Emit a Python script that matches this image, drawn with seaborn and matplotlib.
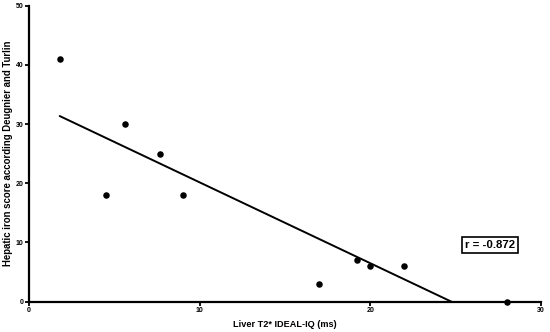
import numpy as np
import pandas as pd
import matplotlib
matplotlib.use("Agg")
import matplotlib.pyplot as plt
import seaborn as sns

t2_ms = [1.8, 4.5, 5.6, 7.7, 9.0, 17.0, 19.2, 20.0, 22.0, 28.0]
iron_score = [41, 18, 30, 25, 18, 3, 7, 6, 6, 0]
x_ticks = [0, 10, 20, 30]
y_ticks = [0, 10, 20, 30, 40, 50]
r_label = "r = -0.872"

df = pd.DataFrame({"t2": t2_ms, "score": iron_score})

sns.set_theme(style="white")
plt.rcParams["font.family"] = ["Liberation Sans", "DejaVu Sans"]
plt.rcParams["text.color"] = "black"
plt.rcParams["axes.labelcolor"] = "black"

fig = plt.figure(figsize=(5.5, 3.32), dpi=100)
ax = fig.add_axes([0.0527, 0.0913, 0.9309, 0.8917])

sns.regplot(data=df, x="t2", y="score", ci=None, ax=ax, scatter=False,
            line_kws={"color": "black", "linewidth": 1.4})
sns.scatterplot(data=df, x="t2", y="score", ax=ax, color="black", s=22,
                edgecolor="black", linewidth=0, clip_on=False, zorder=5)

ax.set_xlim(0, 30)
ax.set_ylim(0, 50)
ax.set_xticks(x_ticks)
ax.set_yticks(y_ticks)
ax.set_xticklabels([str(v) for v in x_ticks], fontsize=5, fontweight="bold")
ax.set_yticklabels([str(v) for v in y_ticks], fontsize=5, fontweight="bold")
for s in ["top", "right"]:
    ax.spines[s].set_visible(False)
for s in ["left", "bottom"]:
    ax.spines[s].set_linewidth(1.6)
    ax.spines[s].set_color("black")
ax.tick_params(axis="both", direction="out", length=3, width=1.3, pad=1,
               colors="black", bottom=True, left=True)

ax.set_xlabel("Liver T2* IDEAL-IQ (ms)", fontsize=6.6, fontweight="bold")
ax.set_ylabel("Hepatic iron score according Deugnier and Turlin", fontsize=6.9,
              fontweight="bold")
ax.xaxis.set_label_coords(0.5, -0.062)
ax.yaxis.set_label_coords(-0.031, 0.5)

ax.text(27.0, 9.6, r_label, fontsize=8.2, fontweight="bold", ha="center", va="center",
        bbox=dict(boxstyle="square,pad=0.25", facecolor="white", edgecolor="black", linewidth=1.2))

fig.savefig("out.png", dpi=100)
